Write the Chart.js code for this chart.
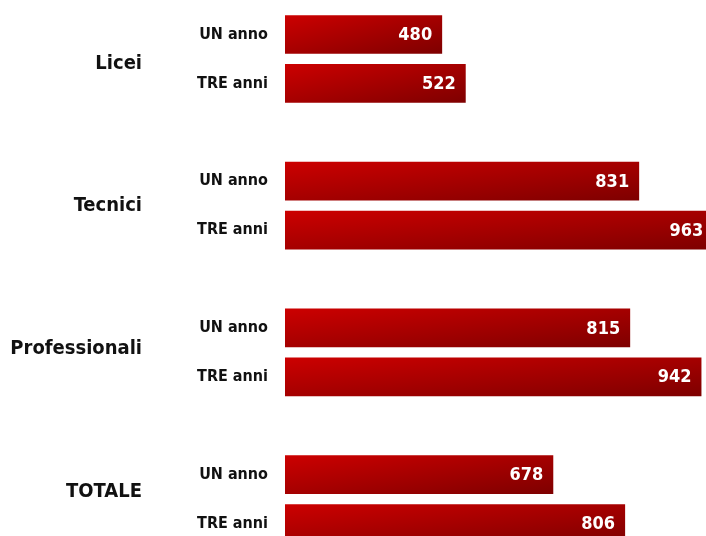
<!DOCTYPE html>
<html>
<head>
<meta charset="utf-8">
<script src="https://cdn.jsdelivr.net/npm/chart.js@4"></script>
<style>
  html, body { margin: 0; padding: 0; background: #fff; overflow: hidden; }
  #wrap { width: 734px; height: 548px; }
</style>
</head>
<body>
<div id="wrap"><canvas id="chart" width="734" height="548"></canvas></div>
<script>
// categories: each group has UN anno / TRE anni plus an empty spacer row
const groups = ['Licei', 'Tecnici', 'Professionali', 'TOTALE'];
const rowLabels = ['UN anno', 'TRE anni', '', 'UN anno', 'TRE anni', '', 'UN anno', 'TRE anni', '', 'UN anno', 'TRE anni'];
const unAnno = [480, 831, 815, 678];
const treAnni = [522, 963, 942, 806];

const values = [];
groups.forEach((g, i) => {
    values.push(unAnno[i], treAnni[i]);
    if (i < groups.length - 1) values.push(null);
});

const FONT = "'DejaVu Sans Condensed', 'DejaVu Sans', sans-serif";

// diagonal gradient per bar, isolines parallel to the bar's anti-diagonal
function barGradient(ctx) {
    const chart = ctx.chart;
    const { x, y } = chart.scales;
    if (!x || !y || ctx.raw == null) return '#b00000';
    const left = x.getPixelForValue(200);
    const right = x.getPixelForValue(ctx.raw);
    const cy = y.getPixelForValue(ctx.dataIndex);
    if (![left, right, cy].every(Number.isFinite)) return '#b00000';
    const h = 38.5;
    const top = cy - h / 2;
    const w = Math.max(right - left, 1);
    const k = 2 * w * h / (w * w + h * h);
    const g = chart.ctx.createLinearGradient(left, top, left + h * k, top + w * k);
    g.addColorStop(0, '#cc0000');
    g.addColorStop(1, '#7e0000');
    return g;
}

const labelsPlugin = {
    id: 'labels',
    afterDatasetsDraw(chart) {
        const ctx = chart.ctx;
        const meta = chart.getDatasetMeta(0);
        ctx.save();
        ctx.fillStyle = '#ffffff';
        ctx.font = 'bold 18px ' + FONT;
        ctx.textAlign = 'right';
        ctx.textBaseline = 'middle';
        meta.data.forEach((bar, i) => {
            if (values[i] == null) return;
            ctx.fillText(String(values[i]), bar.x - 10, bar.y + 1);
        });
        // group names on the left, spaced a little tighter than the bar groups
        const y = chart.scales.y;
        ctx.fillStyle = '#111111';
        ctx.font = 'bold 20px ' + FONT;
        groups.forEach((g, i) => {
            const py = y.getPixelForValue(0.59 + 2.92 * i);
            ctx.fillText(g, 142, py);
        });
        ctx.restore();
    }
};

new Chart(document.getElementById('chart'), {
    type: 'bar',
    data: {
        labels: rowLabels,
        datasets: [{
            data: values,
            backgroundColor: barGradient,
            borderWidth: 0,
            barPercentage: 0.79,
            categoryPercentage: 1
        }]
    },
    options: {
        indexAxis: 'y',
        responsive: false,
        animation: false,
        layout: { padding: { top: 10, bottom: 0, left: 0, right: 0 } },
        plugins: { legend: { display: false }, tooltip: { enabled: false } },
        scales: {
            x: {
                display: false,
                min: 200,
                max: 1000
            },
            y: {
                grid: { display: false, drawTicks: false },
                border: { display: false },
                afterFit(scale) {
                    scale.width = 285;
                    scale.paddingTop = 0;
                    scale.paddingBottom = 0;
                },
                ticks: {
                    padding: 17,
                    color: '#111111',
                    font: { family: FONT, size: 16, weight: 'bold' }
                }
            }
        }
    },
    plugins: [labelsPlugin]
});
</script>
</body>
</html>
